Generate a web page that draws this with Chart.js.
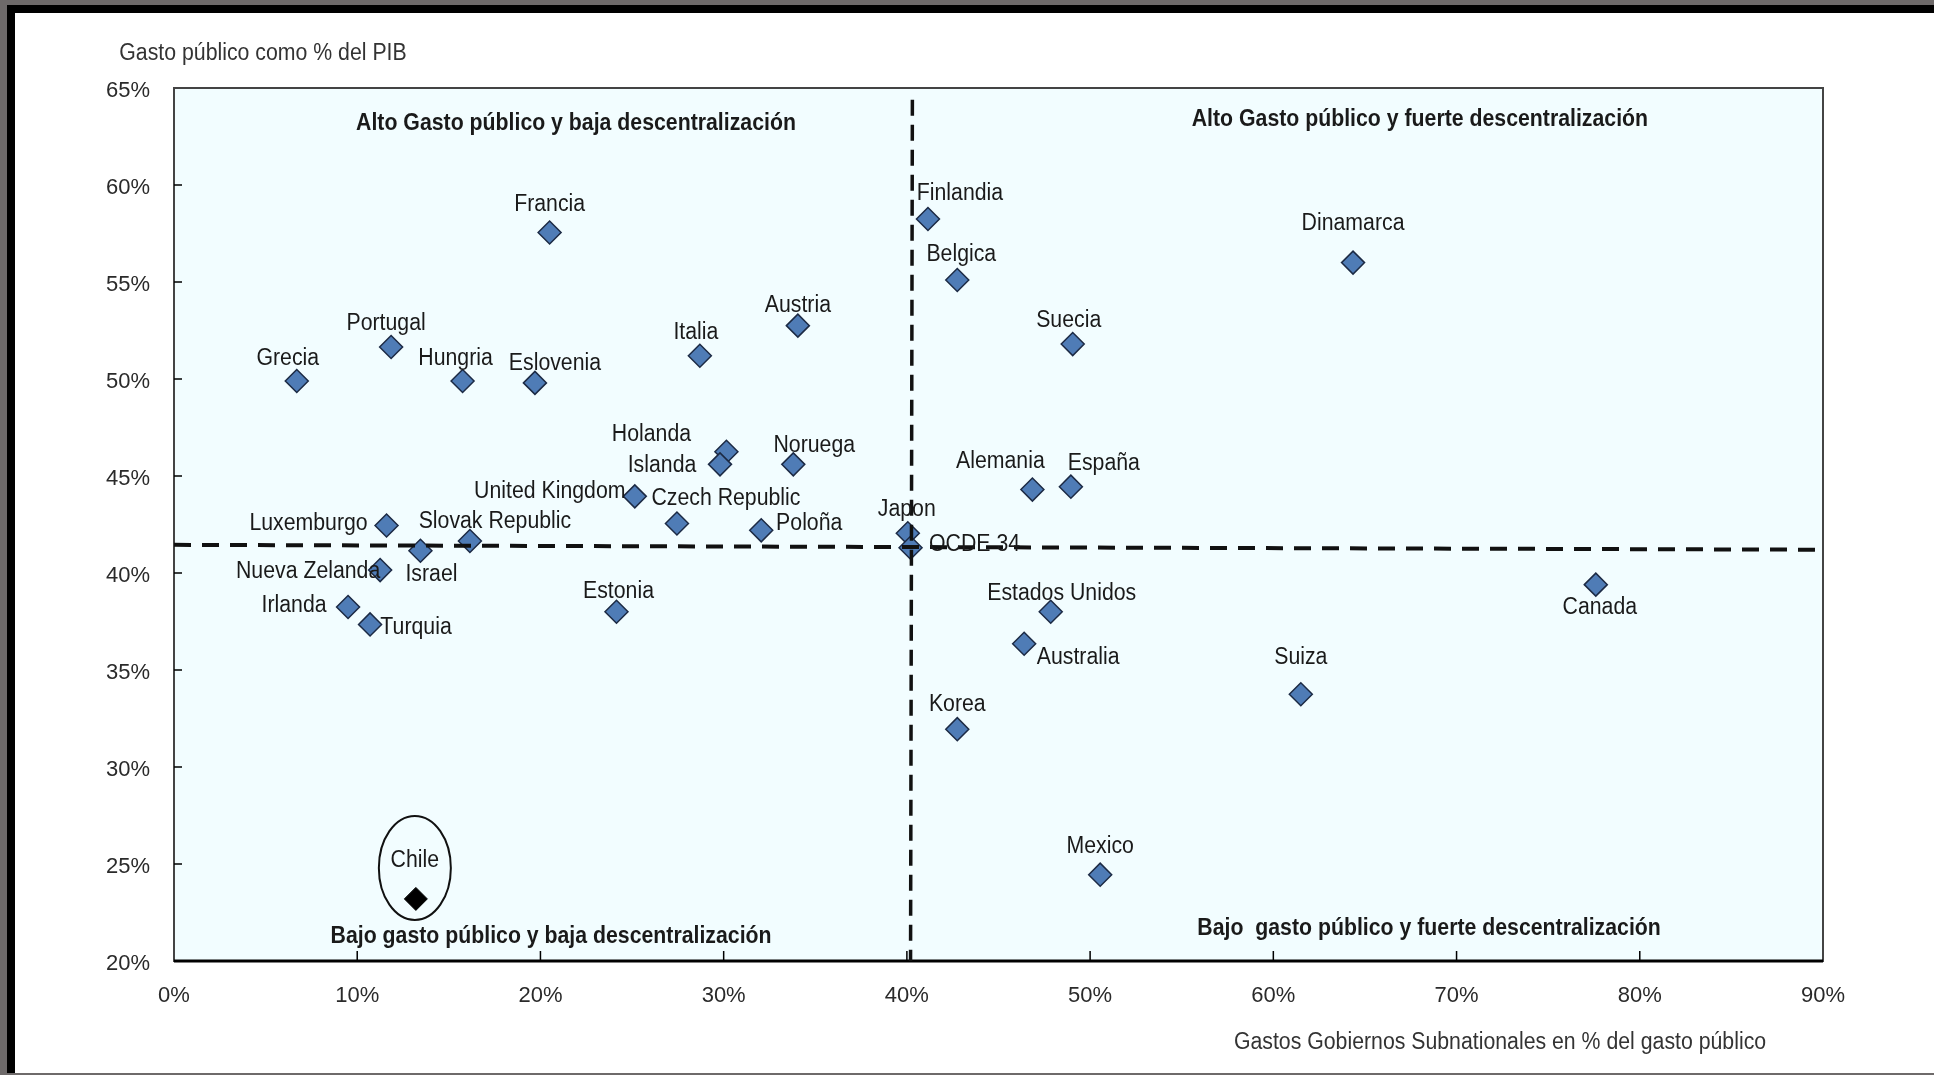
<!DOCTYPE html>
<html>
<head>
<meta charset="utf-8">
<script src="https://cdn.jsdelivr.net/npm/chart.js@4.4.1/dist/chart.umd.min.js"></script>
<style>
  html, body { margin: 0; padding: 0; background: #fff; }
  #wrap { position: relative; width: 1934px; height: 1075px; overflow: hidden; }
  #wrap canvas { position: absolute; left: 0; top: 0; }
  .fr { position: absolute; }
</style>
</head>
<body>
<div id="wrap">
  <canvas id="chart" width="1934" height="1075"></canvas>
  <div class="fr" style="left:0;top:0;width:1934px;height:5px;background:#6e6a6a"></div>
  <div class="fr" style="left:0;top:5px;width:1934px;height:8px;background:#000"></div>
  <div class="fr" style="left:0;top:0;width:7px;height:1075px;background:#6e6a6a"></div>
  <div class="fr" style="left:7px;top:5px;width:8px;height:1070px;background:#000"></div>
  <div class="fr" style="left:0;top:1073px;width:1934px;height:2px;background:#6e6a6a"></div>
</div>
<script>
// datos: gasto subnacional (% gasto público) vs gasto público (% PIB)
const paises = [
  'Grecia','Portugal','Hungria','Eslovenia','Francia','Italia','Austria',
  'Holanda','Islanda','Noruega','United Kingdom','Czech Republic','Poloña',
  'Luxemburgo','Slovak Republic','Israel','Nueva Zelanda','Irlanda','Turquia',
  'Estonia','Japon','OCDE 34','Finlandia','Belgica','Dinamarca','Suecia',
  'Alemania','España','Estados Unidos','Australia','Canada','Suiza','Korea','Mexico'
];
const gastoSubnacional = [
  6.7, 11.85, 15.75, 19.7, 20.5, 28.7, 34.05,
  30.15, 29.8, 33.8, 25.15, 27.45, 32.05,
  11.6, 16.15, 13.45, 11.25, 9.5, 10.7,
  24.15, 40.05, 40.2, 41.15, 42.75, 64.35, 49.05,
  46.85, 48.95, 47.85, 46.4, 77.6, 61.5, 42.75, 50.55
];
const gastoPublico = [
  49.9, 51.65, 49.9, 49.8, 57.55, 51.2, 52.75,
  46.25, 45.6, 45.6, 43.95, 42.55, 42.2,
  42.45, 41.65, 41.15, 40.15, 38.25, 37.35,
  38.0, 42.05, 41.3, 58.25, 55.1, 56.0, 51.8,
  44.3, 44.45, 38.0, 36.35, 39.4, 33.75, 31.95, 24.45
];
const chileX = [13.2];
const chileY = [23.2];

// promedios OCDE (líneas discontinuas)
const promedioHorizX = [0, 90];
const promedioHorizY = [41.45, 41.2];
const promedioVertX = [40.3, 40.2];
const promedioVertY = [64.4, 20];

const xTicks = [0, 10, 20, 30, 40, 50, 60, 70, 80, 90];
const yTicks = [20, 25, 30, 35, 40, 45, 50, 55, 60, 65];

const cuadrantes = [
  { t: 'Alto Gasto público y baja descentralización', x: 21.94, y: 63.3 },
  { t: 'Alto Gasto público y fuerte descentralización', x: 68.0, y: 63.5 },
  { t: 'Bajo gasto público y baja descentralización', x: 20.58, y: 21.4 },
  { t: 'Bajo  gasto público y fuerte descentralización', x: 68.5, y: 21.8 }
];

// desplazamiento de cada etiqueta respecto a su punto (px)
const labelOffsets = [
  [-9,-25],[-5,-26],[-7,-25],[20,-22],[0,-30],[-4,-26],[0,-22],
  [-75,-20],[-58,-1],[21,-21],[-85,-7],[49,-27],[48,-9],
  [-78,-4],[25,-22],[11,21],[-72,-1],[-54,-4],[46,1],
  [2,-23],[-1,-26],[64,-6],[32,-28],[4,-28],[0,-41],[-4,-26],
  [-32,-30],[33,-26],[11,-21],[54,11],[4,21],[0,-39],[0,-27],[0,-31]
];

const FONT = "'Liberation Sans', Arial, sans-serif";
const SQUEEZE = 0.925;
const TEXT_DY = 2.5;

function drawText(ctx, str, x, y, size, bold, align, color) {
  ctx.save();
  ctx.font = (bold ? 'bold ' : '') + size + 'px ' + FONT;
  ctx.fillStyle = color || '#1a1a1a';
  ctx.textAlign = align || 'center';
  ctx.textBaseline = 'middle';
  ctx.translate(x, y + TEXT_DY);
  ctx.scale(SQUEEZE, 1);
  ctx.fillText(str, 0, 0);
  ctx.restore();
}

const marco = {
  id: 'marco',
  beforeDatasetsDraw(chart) {
    const { ctx, chartArea: a, scales: { x, y } } = chart;
    ctx.save();
    ctx.fillStyle = '#f2fdff';
    ctx.fillRect(a.left, a.top, a.right - a.left, a.bottom - a.top);
    ctx.strokeStyle = '#444';
    ctx.lineWidth = 2;
    ctx.strokeRect(a.left, a.top, a.right - a.left, a.bottom - a.top);
    ctx.strokeStyle = '#000';
    ctx.lineWidth = 3;
    ctx.beginPath();
    ctx.moveTo(a.left, a.bottom); ctx.lineTo(a.right, a.bottom);
    ctx.stroke();
    ctx.lineWidth = 1.5;
    ctx.beginPath();
    xTicks.slice(1, -1).forEach(v => {
      const px = x.getPixelForValue(v);
      ctx.moveTo(px, a.bottom); ctx.lineTo(px, a.bottom - 10);
    });
    yTicks.slice(1, -1).forEach(v => {
      const py = y.getPixelForValue(v);
      ctx.moveTo(a.left, py); ctx.lineTo(a.left + 8, py);
    });
    ctx.stroke();
    ctx.restore();
  },
  afterDatasetsDraw(chart) {
    const { ctx, scales: { x, y } } = chart;
    const meta = chart.getDatasetMeta(2);
    meta.data.forEach((pt, i) => {
      const o = labelOffsets[i];
      drawText(ctx, paises[i], pt.x + o[0], pt.y + o[1], 23, false);
    });
    // Chile
    const ch = chart.getDatasetMeta(3).data[0];
    ctx.save();
    ctx.strokeStyle = '#111';
    ctx.lineWidth = 2;
    ctx.beginPath();
    ctx.ellipse(ch.x - 1, ch.y - 31, 36, 52, 0, 0, Math.PI * 2);
    ctx.stroke();
    ctx.restore();
    drawText(ctx, 'Chile', ch.x - 1, ch.y - 41, 23, false);

    cuadrantes.forEach(q => {
      drawText(ctx, q.t, x.getPixelForValue(q.x), y.getPixelForValue(q.y), 23, true);
    });
    drawText(ctx, 'Gasto público como % del PIB', 263, 51, 23, false, 'center', '#333');
    drawText(ctx, 'Gastos Gobiernos Subnationales en % del gasto público', 1500, 1040, 23, false, 'center', '#333');
  }
};

const tickFont = { family: FONT, size: 22 };

new Chart(document.getElementById('chart'), {
  type: 'scatter',
  data: {
    datasets: [
      {
        data: promedioHorizX.map((v, i) => ({ x: v, y: promedioHorizY[i] })),
        showLine: true, borderColor: '#111', borderWidth: 4, borderDash: [17, 11],
        pointRadius: 0, order: 0
      },
      {
        data: promedioVertX.map((v, i) => ({ x: v, y: promedioVertY[i] })),
        showLine: true, borderColor: '#111', borderWidth: 3.5, borderDash: [16, 9],
        pointRadius: 0, order: 0
      },
      {
        data: paises.map((p, i) => ({ x: gastoSubnacional[i], y: gastoPublico[i] })),
        pointStyle: 'rectRot', pointRadius: 11.5,
        backgroundColor: '#4f7cb6', borderColor: '#1c2a44', borderWidth: 1.5, order: 1
      },
      {
        data: chileX.map((v, i) => ({ x: v, y: chileY[i] })),
        pointStyle: 'rectRot', pointRadius: 11.5,
        backgroundColor: '#000', borderColor: '#000', borderWidth: 1, order: 1
      }
    ]
  },
  options: {
    responsive: false,
    animation: false,
    devicePixelRatio: 1,
    layout: { padding: { top: 88, right: 111, left: 0, bottom: 0 } },
    plugins: { legend: { display: false }, tooltip: { enabled: false } },
    scales: {
      x: {
        type: 'linear', min: 0, max: 90,
        afterFit(s) { s.height = 114; },
        afterBuildTicks(s) { s.ticks = xTicks.map(v => ({ value: v })); },
        grid: { display: false, drawTicks: false },
        border: { display: false },
        ticks: { padding: 22, color: '#2a2a2a', font: tickFont, callback: v => v + '%' }
      },
      y: {
        type: 'linear', min: 20, max: 65,
        afterFit(s) { s.width = 174; },
        afterBuildTicks(s) { s.ticks = yTicks.map(v => ({ value: v })); },
        grid: { display: false, drawTicks: false },
        border: { display: false },
        ticks: { padding: 24, labelOffset: 2.5, color: '#2a2a2a', font: tickFont, callback: v => v + '%' }
      }
    }
  },
  plugins: [marco]
});
</script>
</body>
</html>
